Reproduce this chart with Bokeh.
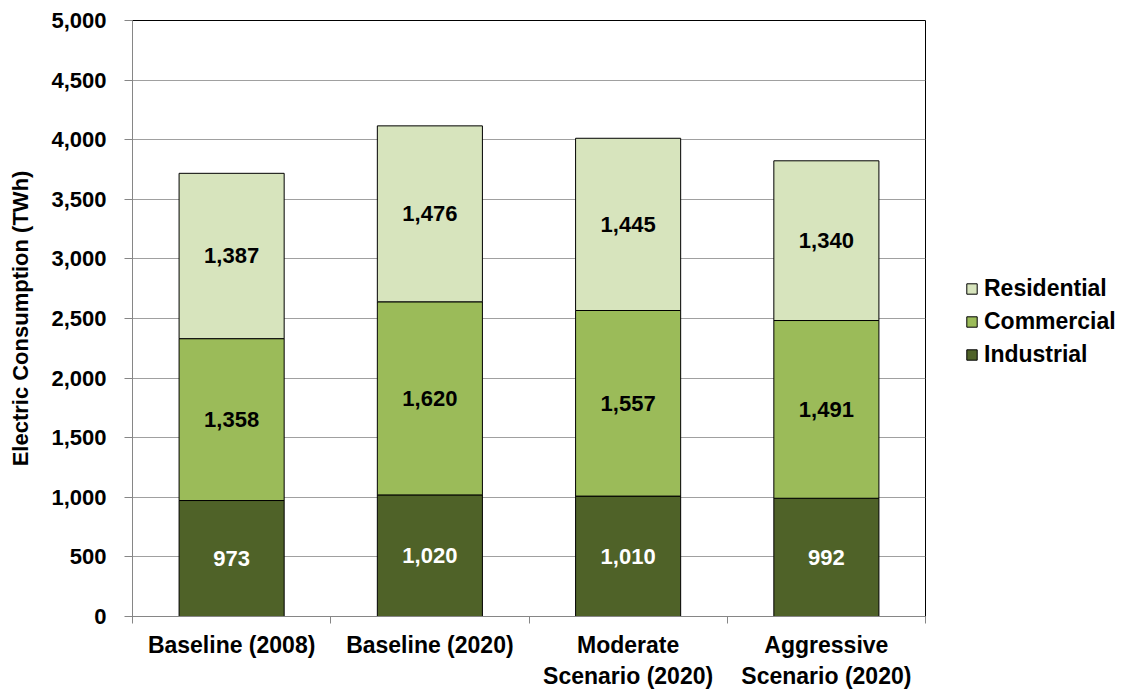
from bokeh.plotting import figure
from bokeh.layouts import row
from bokeh.models import (ColumnDataSource, Range1d, FixedTicker, NumeralTickFormatter,
                          Legend, LegendItem, LabelSet)
from bokeh.core.properties import value
from bokeh.embed import file_html
from bokeh.resources import INLINE

# Electric consumption by sector (TWh)
categories = ["Baseline (2008)", "Baseline (2020)",
              "Moderate\nScenario (2020)", "Aggressive\nScenario (2020)"]
industrial = [973, 1020, 1010, 992]
commercial = [1358, 1620, 1557, 1491]
residential = [1387, 1476, 1445, 1340]
y_ticks = [0, 500, 1000, 1500, 2000, 2500, 3000, 3500, 4000, 4500, 5000]

sectors = ["industrial", "commercial", "residential"]
names = ["Industrial", "Commercial", "Residential"]
colors = ["#4F6228", "#9BBB59", "#D7E4BD"]
FONT = "Liberation Sans"

n = len(categories)
xs = [i + 0.5 for i in range(n)]
src = ColumnDataSource(dict(x=xs, industrial=industrial,
                            commercial=commercial, residential=residential))

p = figure(width=926, height=692, x_range=Range1d(0, n), y_range=Range1d(0, 5000),
           output_backend="svg", toolbar_location=None,
           min_border_left=132, min_border_right=1,
           min_border_top=20, min_border_bottom=76)
p.background_fill_color = "white"
p.border_fill_color = "white"
p.outline_line_color = "black"
p.outline_line_width = 1

p.vbar_stack(sectors, x="x", width=0.53, color=colors,
             line_color="black", line_width=1, source=src)

# value labels centred in each segment
lab_x, lab_y, lab_t, lab_c = [], [], [], []
for i in range(n):
    base = 0
    for vals, col in ((industrial, "white"), (commercial, "black"), (residential, "black")):
        v = vals[i]
        lab_x.append(xs[i])
        lab_y.append(base + v / 2)
        lab_t.append(f"{v:,}")
        lab_c.append(col)
        base += v
lsrc = ColumnDataSource(dict(x=lab_x, y=lab_y, t=lab_t, c=lab_c))
p.add_layout(LabelSet(x="x", y="y", text="t", source=lsrc, text_color="c",
                      text_align="center", text_baseline="middle",
                      text_font=value(FONT), text_font_style="bold",
                      text_font_size="22px"))

# y axis
yax = p.yaxis[0]
yax.ticker = FixedTicker(ticks=y_ticks)
yax.formatter = NumeralTickFormatter(format="0,0")
yax.axis_label = "Electric Consumption (TWh)"
yax.axis_label_text_font = FONT
yax.axis_label_text_font_style = "bold"
yax.axis_label_text_font_size = "22px"
yax.axis_label_text_color = "black"
yax.axis_label_standoff = 15
yax.major_label_text_font = FONT
yax.major_label_text_font_style = "bold"
yax.major_label_text_font_size = "22px"
yax.major_label_text_color = "black"
yax.major_label_standoff = 18
yax.major_tick_out = 8
yax.major_tick_in = 0
yax.minor_tick_line_color = None
yax.axis_line_color = "#868686"
yax.major_tick_line_color = "#868686"

# x axis: labels at bar centres, ticks at category boundaries
xax = p.xaxis[0]
xax.ticker = FixedTicker(ticks=xs, minor_ticks=list(range(n + 1)))
xax.major_label_overrides = {x: c for x, c in zip(xs, categories)}
xax.major_label_text_font = FONT
xax.major_label_text_font_style = "bold"
xax.major_label_text_font_size = "23px"
xax.major_label_text_color = "black"
xax.major_label_standoff = 8
xax.major_tick_line_color = None
xax.major_tick_out = 0
xax.major_tick_in = 0
xax.minor_tick_out = 7
xax.minor_tick_in = 0
xax.minor_tick_line_color = "#868686"
xax.axis_line_color = "#868686"

p.xgrid.grid_line_color = None
p.ygrid.grid_line_color = "#A0A0A0"
p.ygrid.grid_line_width = 1

# legend panel to the right of the chart; its swatch bars lie far outside
# the panel's x range, so only the legend itself shows
leg = figure(width=199, height=692, x_range=Range1d(-200, -100), y_range=Range1d(0, 5000),
             output_backend="svg", toolbar_location=None, min_border=0)
leg.axis.visible = False
leg.grid.grid_line_color = None
leg.outline_line_color = None
swatch_rs = leg.vbar_stack(sectors, x="x", width=0.53, color=colors,
                           line_color="black", line_width=1, source=src)
items = [LegendItem(label=names[k], renderers=[swatch_rs[k]]) for k in (2, 1, 0)]
legend = Legend(items=items, location=(39, 248), border_line_color=None,
                background_fill_alpha=0, padding=0, margin=0,
                glyph_width=13, glyph_height=13, label_standoff=6,
                label_height=26, spacing=6, label_text_color="black",
                label_text_font=FONT, label_text_font_style="bold",
                label_text_font_size="23px")
leg.add_layout(legend)

layout = row(p, leg, spacing=0)
open("out.html", "w").write(file_html(layout, INLINE))
